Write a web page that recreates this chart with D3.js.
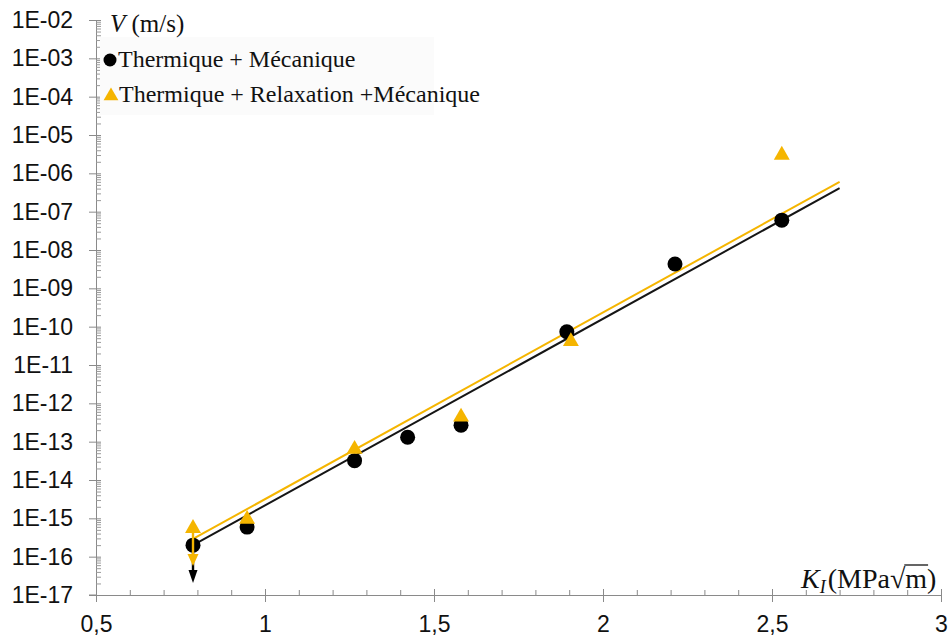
<!DOCTYPE html>
<html>
<head>
<meta charset="utf-8">
<script src="https://cdn.jsdelivr.net/npm/d3@7"></script>
<style>
  html, body { margin: 0; padding: 0; background: #fff; }
  svg { display: block; }
</style>
</head>
<body>
<svg id="chart" width="950" height="642"></svg>
<script>
// ---- data ----
const xTicks = [0.5, 1, 1.5, 2, 2.5, 3];
const xTickLabels = ["0,5", "1", "1,5", "2", "2,5", "3"];
const yDecades = [1e-17, 1e-16, 1e-15, 1e-14, 1e-13, 1e-12, 1e-11, 1e-10, 1e-9, 1e-8, 1e-7, 1e-6, 1e-5, 1e-4, 1e-3, 1e-2];
const yTickLabels = ["1E-17","1E-16","1E-15","1E-14","1E-13","1E-12","1E-11","1E-10","1E-09","1E-08","1E-07","1E-06","1E-05","1E-04","1E-03","1E-02"];

// Thermique + Mécanique (black circles)
const circleK = [0.787, 0.947, 1.265, 1.422, 1.58, 1.893, 2.213, 2.529];
const circleV = [2.0e-16, 5.9e-16, 3.2e-14, 1.3e-13, 2.7e-13, 7.4e-11, 4.3e-9, 6.0e-8];
// Thermique + Relaxation + Mécanique (yellow triangles)
const triK = [0.787, 0.947, 1.265, 1.58, 1.905, 2.529];
const triV = [5.5e-16, 9.5e-16, 6.4e-14, 4.4e-13, 4.1e-11, 3.0e-6];
// fitted lines
const fitK = [0.787, 2.70];
const fitBlackV = [2.0e-16, 4.1e-7];
const fitYellowV = [2.9e-16, 6.0e-7];
// downward arrows at first point (upper bounds)
const arrowK = [0.787];
const arrowBlackV = [2.0e-16, 2.05e-17];
const arrowYellowV = [5.5e-16, 5.7e-17];

const legendLabels = ["Thermique + Mécanique", "Thermique + Relaxation +Mécanique"];

// ---- styles ----
const YELLOW = "#F5B500";
const AXIS = "#8a8a8a";

const svg = d3.select("#chart");
const x = d3.scaleLinear().domain([0.5, 3]).range([96, 941]);
const y = d3.scaleLog().domain([1e-17, 1e-2]).range([595, 20]);

// minor ticks
const yMinor = [];
yDecades.slice(0, -1).forEach(d => { for (let k = 2; k <= 9; k++) yMinor.push(d * k); });
const xMinor = d3.range(6, 30).map(v => v / 10).filter(v => Math.abs(v * 2 - Math.round(v * 2)) > 1e-6);

// Y axis
const gy = svg.append("g").attr("transform", `translate(${x(0.5)},0)`);
gy.call(d3.axisLeft(y).tickValues(yDecades).tickFormat((d, i) => yTickLabels[i]).tickSizeInner(7).tickSizeOuter(0).tickPadding(16));
gy.selectAll(".tick line").attr("x1", 5).attr("x2", -7).attr("stroke", AXIS);
gy.select(".domain").attr("stroke", AXIS);
gy.selectAll(".tick text").attr("font-family", "Liberation Sans, Arial, sans-serif").attr("font-size", 23).attr("fill", "#111");
const gyMinor = svg.append("g").attr("transform", `translate(${x(0.5)},0)`);
gyMinor.call(d3.axisRight(y).tickValues(yMinor).tickFormat("").tickSizeInner(5).tickSizeOuter(0));
gyMinor.select(".domain").remove();
gyMinor.selectAll(".tick line").attr("stroke", "#9a9a9a");

// X axis
const gx = svg.append("g").attr("transform", `translate(0,${y(1e-17)})`);
gx.call(d3.axisBottom(x).tickValues(xTicks).tickFormat((d, i) => xTickLabels[i]).tickSizeInner(7).tickSizeOuter(0).tickPadding(14));
gx.selectAll(".tick line").attr("y1", -6).attr("y2", 7).attr("stroke", AXIS);
gx.select(".domain").attr("stroke", AXIS);
gx.selectAll(".tick text").attr("font-family", "Liberation Sans, Arial, sans-serif").attr("font-size", 23).attr("fill", "#111");
const gxMinor = svg.append("g").attr("transform", `translate(0,${y(1e-17)})`);
gxMinor.call(d3.axisTop(x).tickValues(xMinor).tickFormat("").tickSizeInner(5).tickSizeOuter(0));
gxMinor.select(".domain").remove();
gxMinor.selectAll(".tick line").attr("stroke", AXIS);
svg.append("line").attr("x1", x(0.5) - 7).attr("x2", x(0.5)).attr("y1", y(1e-17)).attr("y2", y(1e-17)).attr("stroke", AXIS);

// legend background
const lg = svg.append("g");
lg.append("rect").attr("x", 100).attr("y", 37).attr("width", 334).attr("height", 78).attr("fill", "#fbfbfb");

// fit lines
const line = d3.line().x(d => x(d[0])).y(d => y(d[1]));
svg.append("path").datum(fitK.map((k, i) => [k, fitBlackV[i]])).attr("d", line)
  .attr("stroke", "#151515").attr("stroke-width", 2).attr("fill", "none");
svg.append("path").datum(fitK.map((k, i) => [k, fitYellowV[i]])).attr("d", line)
  .attr("stroke", YELLOW).attr("stroke-width", 2).attr("fill", "none");

// arrows
function arrow(k, v0, v1, color, w, h) {
  const xa = x(k), ya0 = y(v0), ya1 = y(v1);
  svg.append("line").attr("x1", xa).attr("x2", xa).attr("y1", ya0).attr("y2", ya1 - h + 1)
    .attr("stroke", color).attr("stroke-width", 2.4);
  svg.append("path").attr("d", `M${xa - w / 2},${ya1 - h} L${xa + w / 2},${ya1 - h} L${xa},${ya1} Z`).attr("fill", color);
}

// circles
svg.append("g").selectAll("circle").data(circleK.map((k, i) => [k, circleV[i]])).join("circle")
  .attr("cx", d => x(d[0])).attr("cy", d => y(d[1])).attr("r", 7.5).attr("fill", "#000");
arrow(arrowK[0], arrowBlackV[0], arrowBlackV[1], "#000", 9, 13);
arrow(arrowK[0], arrowYellowV[0], arrowYellowV[1], YELLOW, 11, 12);

// triangles
const triSym = d3.symbol().type(d3.symbolTriangle).size(110);
svg.append("g").selectAll("path").data(triK.map((k, i) => [k, triV[i]])).join("path")
  .attr("d", triSym).attr("transform", d => `translate(${x(d[0])},${y(d[1])})`).attr("fill", YELLOW);

// legend
const serif = "Liberation Serif, Times New Roman, serif";
const t0 = lg.append("text").attr("x", 110).attr("y", 32).attr("font-family", serif).attr("font-size", 25).attr("fill", "#111");
t0.append("tspan").attr("font-style", "italic").text("V");
t0.append("tspan").text(" (m/s)");
lg.append("circle").attr("cx", 110).attr("cy", 60).attr("r", 6.5).attr("fill", "#000");
lg.append("text").attr("x", 118).attr("y", 67).attr("font-family", serif).attr("font-size", 24).attr("fill", "#111").text(legendLabels[0]);
lg.append("path").attr("d", d3.symbol().type(d3.symbolTriangle).size(95)).attr("transform", "translate(111,96)").attr("fill", YELLOW);
lg.append("text").attr("x", 119).attr("y", 102).attr("font-family", serif).attr("font-size", 24).attr("fill", "#111").text(legendLabels[1]);

// x axis title
const xt = svg.append("text").attr("x", 801).attr("y", 588).attr("font-family", serif).attr("font-size", 28).attr("fill", "#111");
xt.append("tspan").attr("font-style", "italic").text("K");
xt.append("tspan").attr("font-style", "italic").attr("font-size", 18).attr("dy", 5).text("I");
xt.append("tspan").attr("dy", -5).attr("dx", 2).text("(MPa");
xt.append("tspan").text("\u221A");
xt.append("tspan").text("m");
xt.append("tspan").text(")");
// overline above m (vinculum of the square root)
const tn = xt.node();
const idxM = "KI(MPa\u221A".length;
const en = tn.getEndPositionOfChar(idxM);
const sqExt = tn.getExtentOfChar(idxM - 1);
svg.append("line").attr("x1", sqExt.x + sqExt.width - 1).attr("x2", en.x + 1)
  .attr("y1", sqExt.y + 2).attr("y2", sqExt.y + 2).attr("stroke", "#111").attr("stroke-width", 1.3);
</script>
</body>
</html>
